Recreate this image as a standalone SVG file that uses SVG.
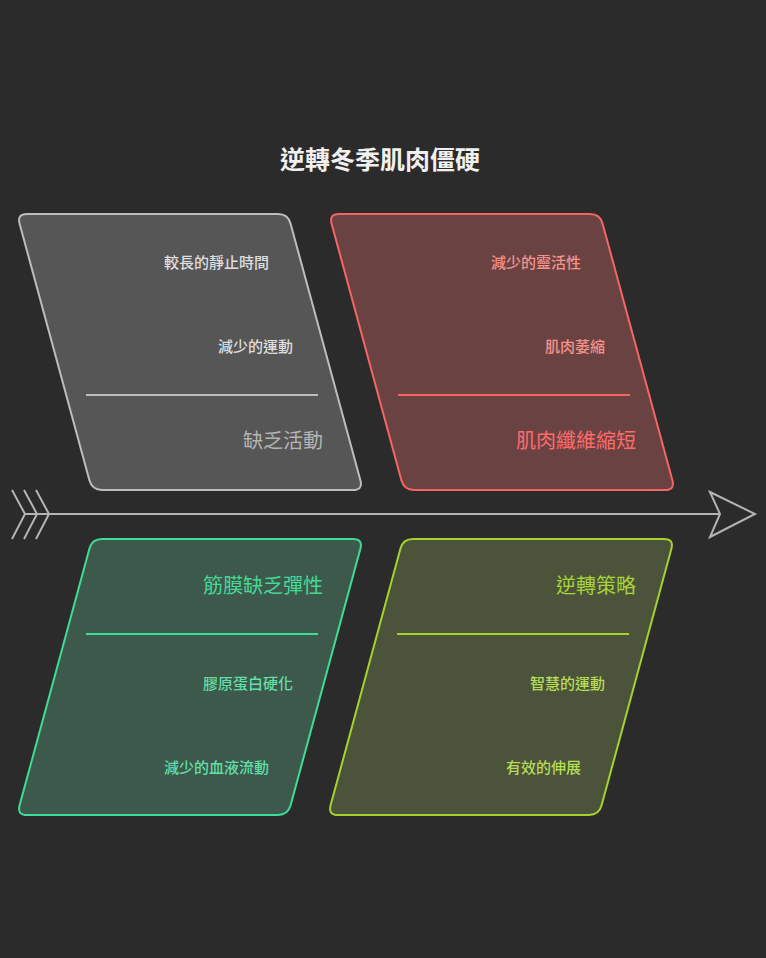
<svg xmlns="http://www.w3.org/2000/svg" width="766" height="958" viewBox="0 0 766 958">
<style>
text{font-family:"Noto Sans CJK TC","Noto Sans CJK SC",sans-serif;}
.t{font-size:25px;font-weight:bold;fill:#f0f0f0;text-anchor:middle;}
.s{font-size:15px;font-weight:500;text-anchor:end;}
.b{font-size:20px;text-anchor:end;}
.p{stroke-width:2;}
.d{stroke-width:2;}
.ax{fill:none;stroke:#b4b4b4;stroke-width:2;stroke-linejoin:miter;}
</style>
<rect width="766" height="958" fill="#2b2b2b"/>
<text class="t" x="380" y="169">逆轉冬季肌肉僵硬</text>
<g id="connectors">
<line class="ax" x1="25" y1="514" x2="720" y2="514"/>
<polyline class="ax" points="12,490 25,514 12,539"/>
<polyline class="ax" points="24,490 37,514 24,539"/>
<polyline class="ax" points="36,490 49,514 36,539"/>
<polygon class="ax" points="710,492 755,514 710,537 720,514"/>
</g>
<g id="node-inactivity">
<path class="p" fill="#565656" stroke="#bdbdbd" d="M27,214 L278,214 Q288,214 290.6,223.65 L360.4,480.35 Q363,490 353,490 L102,490 Q92,490 89.4,480.35 L19.6,223.65 Q17,214 27,214 Z"/>
<line class="d" x1="86" y1="395" x2="318" y2="395" stroke="#bdbdbd"/>
<text class="s" x="269" y="268" fill="#dedede">較長的靜止時間</text>
<text class="s" x="293" y="352" fill="#dedede">減少的運動</text>
<text class="b" x="323" y="448" fill="#b4b4b4">缺乏活動</text>
</g>
<g id="node-muscle">
<path class="p" fill="#6a4242" stroke="#f56565" d="M339,214 L590,214 Q600,214 602.6,223.65 L672.4,480.35 Q675,490 665,490 L414,490 Q404,490 401.4,480.35 L331.6,223.65 Q329,214 339,214 Z"/>
<line class="d" x1="398" y1="395" x2="630" y2="395" stroke="#f56565"/>
<text class="s" x="581" y="268" fill="#f5928a">減少的靈活性</text>
<text class="s" x="605" y="352" fill="#f5928a">肌肉萎縮</text>
<text class="b" x="636" y="448" fill="#ff6b6b">肌肉纖維縮短</text>
</g>
<g id="node-fascia">
<path class="p" fill="#3d594b" stroke="#3ddc97" d="M102,539 L353,539 Q363,539 360.4,548.65 L290.6,805.35 Q288,815 278,815 L27,815 Q17,815 19.6,805.35 L89.4,548.65 Q92,539 102,539 Z"/>
<line class="d" x1="86" y1="634" x2="318" y2="634" stroke="#3ddc97"/>
<text class="b" x="323" y="593" fill="#45d998">筋膜缺乏彈性</text>
<text class="s" x="293" y="689" fill="#62dea8">膠原蛋白硬化</text>
<text class="s" x="269" y="773" fill="#62dea8">減少的血液流動</text>
</g>
<g id="node-strategy">
<path class="p" fill="#4b533b" stroke="#a6d22c" d="M413,539 L664,539 Q674,539 671.4,548.65 L601.6,805.35 Q599,815 589,815 L338,815 Q328,815 330.6,805.35 L400.4,548.65 Q403,539 413,539 Z"/>
<line class="d" x1="397" y1="634" x2="629" y2="634" stroke="#a6d22c"/>
<text class="b" x="636" y="593" fill="#a8d43a">逆轉策略</text>
<text class="s" x="605" y="689" fill="#b6dc55">智慧的運動</text>
<text class="s" x="581" y="773" fill="#b6dc55">有效的伸展</text>
</g>
</svg>
